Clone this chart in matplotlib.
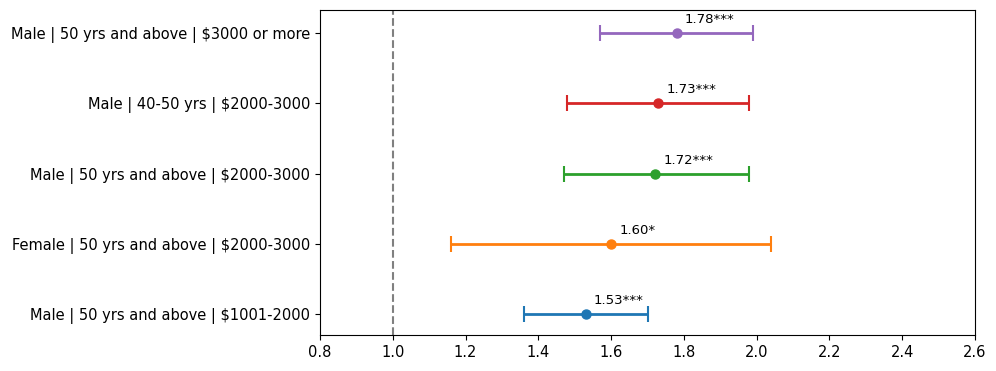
import matplotlib
matplotlib.use("Agg")
import matplotlib.pyplot as plt

categories = [
    "Male | 50 yrs and above | $1001-2000",
    "Female | 50 yrs and above | $2000-3000",
    "Male | 50 yrs and above | $2000-3000",
    "Male | 40-50 yrs | $2000-3000",
    "Male | 50 yrs and above | $3000 or more",
]
estimates = [1.53, 1.60, 1.72, 1.73, 1.78]
ci_low = [1.36, 1.16, 1.47, 1.48, 1.57]
ci_high = [1.70, 2.04, 1.98, 1.98, 1.99]
labels = ["1.53***", "1.60*", "1.72***", "1.73***", "1.78***"]
colors = ["#1f77b4", "#ff7f0e", "#2ca02c", "#d62728", "#9467bd"]

fig = plt.figure(figsize=(9.96, 3.71), dpi=100)
ax = fig.add_axes([320/996, 1-335/371, (975-320)/996, (335-10)/371])

for i, (est, lo, hi, lab, c) in enumerate(zip(estimates, ci_low, ci_high, labels, colors)):
    ax.errorbar(est, i, xerr=[[est - lo], [hi - est]], fmt='o', color=c,
                ecolor=c, elinewidth=2, capsize=6, capthick=1.5, markersize=6.5)
    ax.annotate(lab, (est, i), xytext=(6, 5), textcoords='offset points',
                ha='left', va='bottom', fontsize=9.5)

ax.axvline(1.0, color='gray', linestyle='--', linewidth=1.5)
ax.set_yticks(range(len(categories)))
ax.set_yticklabels(categories, fontsize=10.5)
ax.set_xlim(0.8, 2.6)
ax.set_xticks([0.8, 1.0, 1.2, 1.4, 1.6, 1.8, 2.0, 2.2, 2.4, 2.6])
ax.tick_params(axis='x', labelsize=10.5)
ax.set_ylim(-0.3, 4.33)

fig.savefig("out.png", dpi=100)
